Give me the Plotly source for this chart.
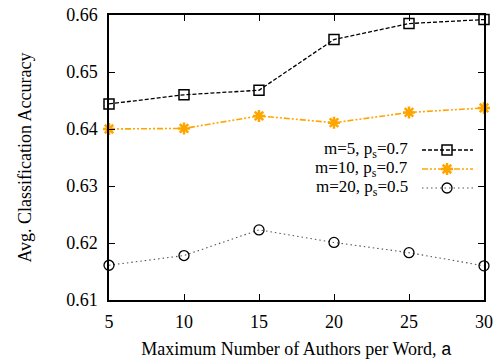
import plotly.graph_objects as go

authors = [5, 10, 15, 20, 25, 30]
acc_m5 = [0.6444, 0.6460, 0.6468, 0.6557, 0.6585, 0.6592]
acc_m10 = [0.6400, 0.6401, 0.6423, 0.6411, 0.6429, 0.6437]
acc_m20 = [0.6161, 0.6178, 0.6223, 0.6201, 0.6183, 0.6160]
labels = ["m=5, p<sub>s</sub>=0.7", "m=10, p<sub>s</sub>=0.7", "m=20, p<sub>s</sub>=0.5"]
y_ticks = [0.61, 0.62, 0.63, 0.64, 0.65, 0.66]
x_ticks = [5, 10, 15, 20, 25, 30]

FONT = "Liberation Serif, Times New Roman, serif"
styles = [
    dict(line=dict(color="black", width=1.3, dash="4px,2px"),
         marker=dict(symbol="square-open", size=10, color="black", line=dict(width=1.5))),
    dict(line=dict(color="#FFA500", width=1.6, dash="6px,2px,2px,2px,2px,2px"),
         marker=dict(symbol="asterisk-open", size=10, color="#FFA500", line=dict(width=2.5, color="#FFA500"))),
    dict(line=dict(color="#555555", width=1.1, dash="1.5px,3px"),
         marker=dict(symbol="circle-open", size=10, color="black", line=dict(width=1.3))),
]

fig = go.Figure()
for vals, st in zip([acc_m5, acc_m10, acc_m20], styles):
    fig.add_trace(go.Scatter(x=authors, y=vals, mode="lines+markers", cliponaxis=False,
                             showlegend=False, **st))

# custom legend (text left of sample), drawn in pixel-like overlay axes
rows_y = [150, 169, 188]
for lab, ry, st in zip(labels, rows_y, styles):
    fig.add_trace(go.Scatter(x=[422, 447, 473], y=[ry, ry, ry], mode="lines",
                             xaxis="x2", yaxis="y2", showlegend=False, hoverinfo="skip",
                             line=st["line"]))
    fig.add_trace(go.Scatter(x=[447], y=[ry], mode="markers", xaxis="x2", yaxis="y2",
                             showlegend=False, hoverinfo="skip", marker=st["marker"]))
    fig.add_annotation(x=410, y=ry, xref="x2", yref="y2", text=lab, showarrow=False,
                       xanchor="right", yanchor="middle", font=dict(family=FONT, size=17, color="black"))

axis_common = dict(showgrid=False, zeroline=False, showline=True, linecolor="black", linewidth=1.5,
                   mirror="ticks", ticks="inside", ticklen=6, tickcolor="black", tickwidth=1,
                   automargin=False,
                   tickfont=dict(family=FONT, size=18, color="black"))

fig.update_layout(
    width=496, height=360,
    margin=dict(l=109, r=12, t=15, b=60),
    paper_bgcolor="white", plot_bgcolor="white",
    xaxis=dict(range=[5, 30], tickvals=x_ticks, ticklabelstandoff=5,
               title=dict(text='Maximum Number of Authors per Word, <span style="font-family:Liberation Mono">a</span>',
                          font=dict(family=FONT, size=18, color="black"), standoff=12),
               **axis_common),
    yaxis=dict(range=[0.61, 0.66], tickvals=y_ticks, tickformat=".2f", ticklabelstandoff=6,
               title=dict(text="Avg. Classification Accuracy", font=dict(family=FONT, size=18, color="black"),
                          standoff=30),
               **axis_common),
    xaxis2=dict(overlaying="x", range=[109, 484], visible=False, fixedrange=True),
    yaxis2=dict(overlaying="y", range=[300, 15], visible=False, fixedrange=True),
)

fig.write_html("out.html")
